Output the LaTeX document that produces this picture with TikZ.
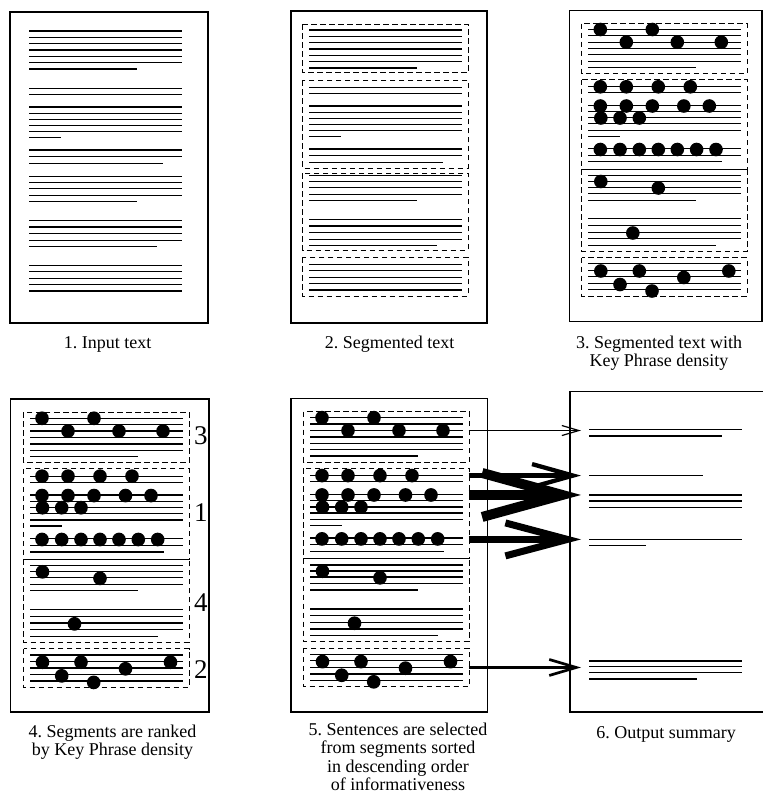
\documentclass[tikz,border=0pt]{standalone}
\usepackage{fontspec}
\setmainfont{Liberation Serif}
\usetikzlibrary{arrows.meta}

\tikzset{
	textline/.style={line width=1.3pt},
	segbox/.style={line width=0.9pt, dash pattern=on 5.5pt off 3.5pt},
	pageframe/.style={line width=1.1pt},
	keyphrase/.style={fill=black},
	caption/.style={font=\fontsize{18}{18.5}\selectfont\frenchspacing, align=center, anchor=base, inner sep=0pt},
	rank/.style={font=\fontsize{27}{27}\selectfont, inner sep=0pt},
}

% lines of text on one page
\newcommand\pagelines{%
	\foreach \y in {0,6.3,12.7,19,25.3,31.7,57.3,63.3,76,82.3,88.3,94.3,100.7,119,125.7,
		145.7,151.7,157.7,164.3,189.3,196,202.7,209.3,234.3,240.7,247.3,253.7,260}
		\draw[textline] (0,\y) -- (153,\y);
	\foreach \y/\e in {38/108,106.7/32,132.3/134,170.7/108,215.7/128}
		\draw[textline] (0,\y) -- (\e,\y);
}
% key phrases
\newcommand\keydots{%
	\foreach \x/\y in {12/0,64/0,38/12.7,89/12.7,133/12.7,
		12/57.3,38/57.3,70/57.3,102/57.3,
		12/76.5,38/76.5,64/76.5,95.5/76.5,121/76.5,
		12.5/88.5,31.7/88.5,51/88.5,
		12/120,31.7/120,51/120,70/120,89/120,108.3/120,127.7/120,
		12.5/152,70/158.5,44.5/203.5,
		12.5/241.5,51/241.5,140.5/241.5,31.7/255,95.5/248,63.7/261.5}
		\fill[keyphrase] (\x,\y) circle (6.8);
}
% segments
\newcommand\segboxes{%
	\draw[segbox] (-6.5,-6) rectangle (159,44);
	\draw[segbox] (-6.5,50) rectangle (159,139.5);
	\draw[segbox] (-6.5,139.5) rectangle (159,221.5);
	\draw[segbox] (-6.5,228) rectangle (159,266.5);
}

\begin{document}
\begin{tikzpicture}[x=1pt,y=-1pt]
	\useasboundingbox (0,0) rectangle (763,796);
	\clip (0,0) rectangle (763,796);

	% 1. input text
	\draw[pageframe] (10,12) rectangle (208,323);
	\begin{scope}[shift={(29,31)}]
		\pagelines
	\end{scope}
	\node[caption] (cap1) at (107.5,348.3) {1. Input text};

	% 2. segmented text
	\draw[pageframe] (291,11) rectangle (487,323);
	\begin{scope}[shift={(309,30)}]
		\pagelines
		\draw[segbox] (-6.3,-6) rectangle (159,42.7);
		\draw[segbox] (-6.3,50) rectangle (159,138);
		\draw[segbox] (-6.3,143) rectangle (159,220);
		\draw[segbox] (-6.3,227) rectangle (159,266);
	\end{scope}
	\node[caption] (cap2) at (389.5,348.3) {2. Segmented text};

	% 3. key phrase density
	\draw[pageframe] (569.3,10.7) rectangle (762,321.7);
	\begin{scope}[shift={(588.3,29.5)}]
		\pagelines
		\keydots
		\segboxes
	\end{scope}
	\node[caption] (cap3) at (659,366.6) {3. Segmented text with\\Key Phrase density};

	% 4. ranking
	\draw[pageframe] (10.7,399) rectangle (209,712);
	\begin{scope}[shift={(30,418.3)},yscale=1.01]
		\pagelines
		\keydots
		\segboxes
	\end{scope}
	\node[rank] (rank3) at (200.8,435.8) {3};
	\node[rank] (rank1) at (200.8,513) {1};
	\node[rank] (rank4) at (200.8,602.5) {4};
	\node[rank] (rank2) at (200.8,670) {2};
	\node[caption] (cap4) at (112.5,755.8) {4. Segments are ranked\\by Key Phrase density};

	% 5. selection
	\draw[pageframe] (291,398.3) rectangle (487.7,712);
	\begin{scope}[shift={(310,417.7)},yscale=1.01]
		\pagelines
		\keydots
		\segboxes
		\coordinate (sel3) at (158.5,12.7);
		\coordinate (sel1a) at (158.5,57.3);
		\coordinate (sel1b) at (158.5,76.5);
		\coordinate (sel1c) at (158.5,120.5);
		\coordinate (sel2) at (158.5,247.3);
	\end{scope}
	\node[caption] (cap5) at (398,790.5) {5. Sentences are selected\\from segments sorted\\in descending order\\of informativeness};

	% 6. output summary
	\draw[pageframe] (570,391.7) rectangle (780,712);
	\coordinate (summary) at (581,400);
	\foreach \y in {429.3,495,501,507.7,539.3,661,666.7,672.7}
		\draw[textline] (589,\y) -- (741.7,\y);
	\foreach \y/\e in {436/721.7,475.7/703.3,545.7/646,679/696.7}
		\draw[textline] (589,\y) -- (\e,\y);
	\node[caption] (cap6) at (666,738.3) {6. Output summary};

	% arrows
	\draw[line width=1.2pt,-{Straight Barb[length=17pt,width=10pt]}] (sel3) -- (sel3 -| summary);
	\draw[line width=4.3pt,-{Straight Barb[length=41pt,width=23pt]}] (sel1a) -- (sel1a -| summary);
	\draw[line width=10pt,-{Straight Barb[length=80pt,width=44pt]}] (sel1b) -- (sel1b -| summary);
	\draw[line width=7pt,-{Straight Barb[length=62pt,width=33pt]}] (sel1c) -- (sel1c -| summary);
	\draw[line width=2.7pt,-{Straight Barb[length=27pt,width=16pt]}] (sel2) -- (sel2 -| summary);
\end{tikzpicture}
\end{document}
